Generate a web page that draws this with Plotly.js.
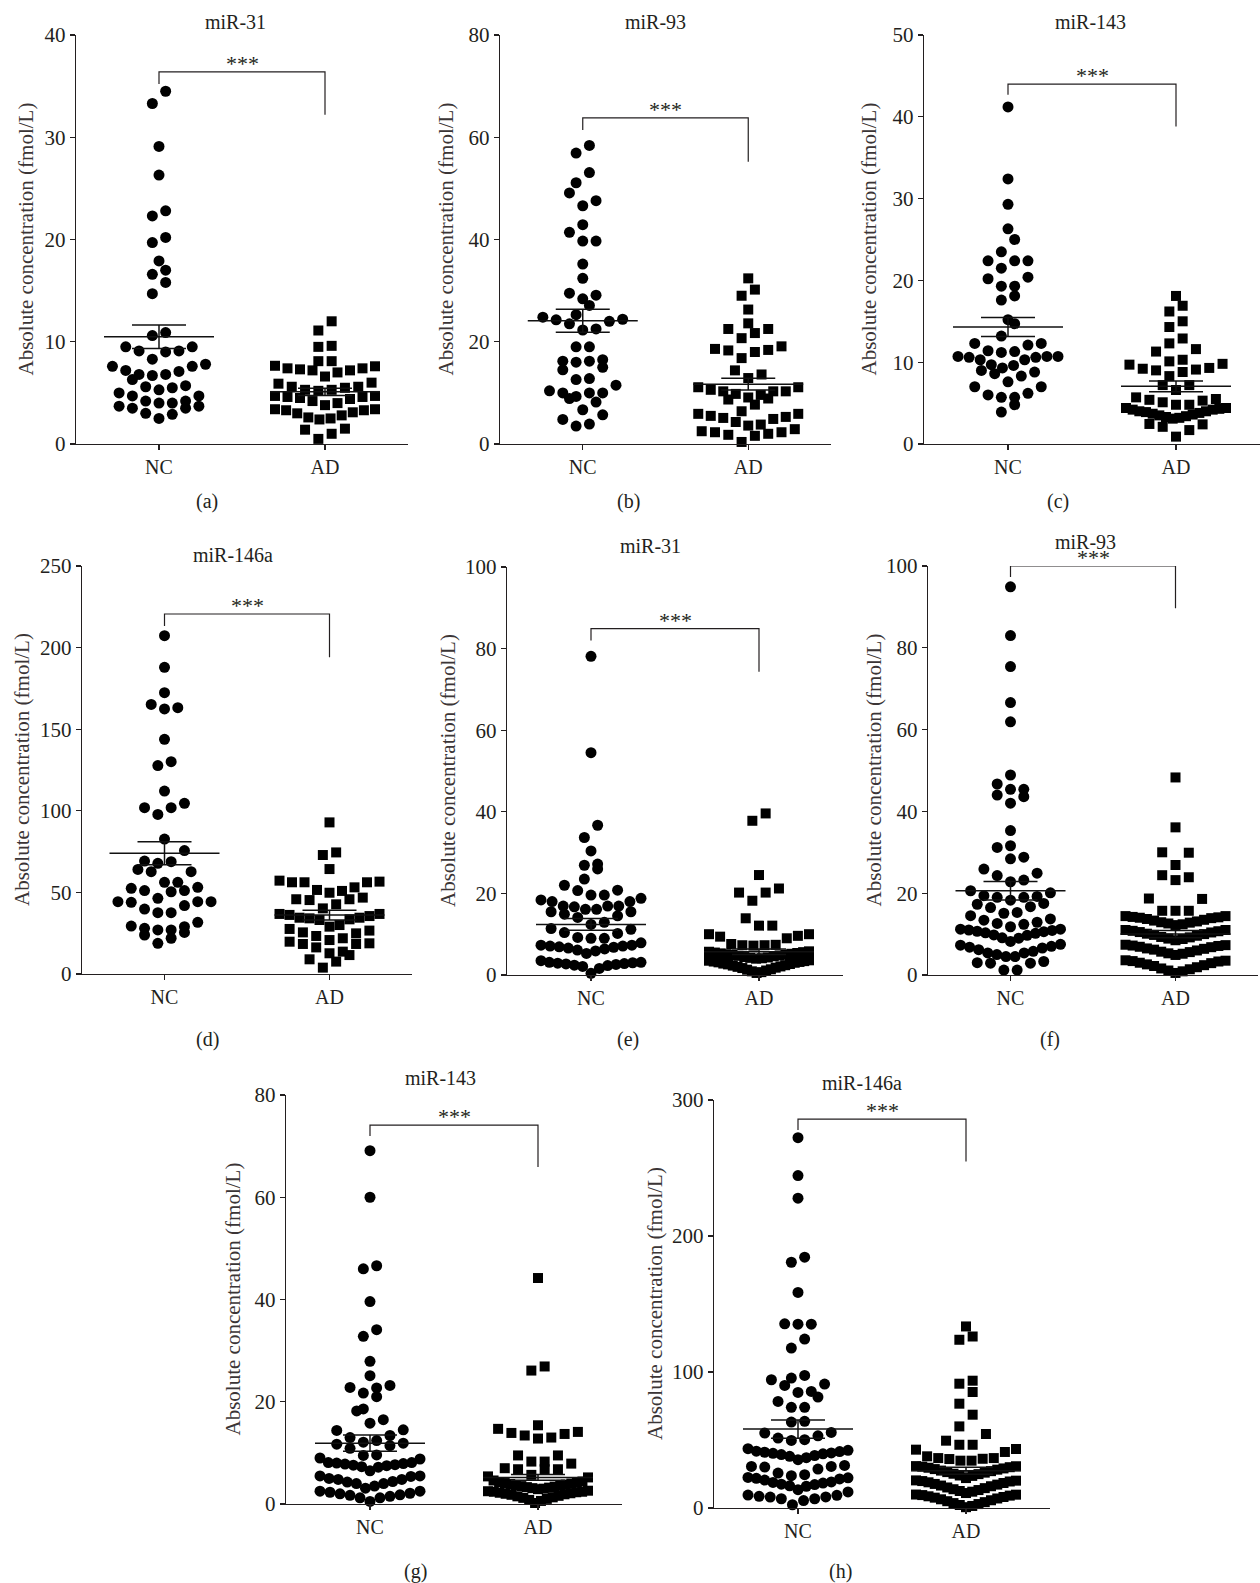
<!DOCTYPE html>
<html>
<head>
<meta charset="utf-8">
<script src="https://cdn.plot.ly/plotly-3.0.1.min.js"></script>
<style>
  html, body { margin: 0; padding: 0; background: #ffffff; }
  #chart { width: 1260px; height: 1583px; }
</style>
</head>
<body>
<div id="chart"></div>
<script>
// ---------------- DATA ----------------
const groups = ['NC', 'AD'];
const titles = ['miR-31', 'miR-93', 'miR-143', 'miR-146a', 'miR-31', 'miR-93', 'miR-143', 'miR-146a'];
const panelLabels = ['(a)', '(b)', '(c)', '(d)', '(e)', '(f)', '(g)', '(h)'];
const yAxisTitle = 'Absolute concentration (fmol/L)';
const sigText = '***';

// (a) miR-31
const a_NC = [34.5, 33.3, 29.1, 26.3, 22.8, 22.3, 20.2, 19.7, 17.9, 17.0, 16.6, 15.8, 14.7, 10.9, 10.6,
  9.5, 9.1, 9.0, 9.1, 9.5, 8.3, 7.8, 7.6, 7.6, 7.2, 7.1, 6.8, 6.7, 6.8, 6.3, 5.7, 5.6, 5.5, 5.3, 5.0,
  4.7, 4.7, 4.2, 4.2, 4.0, 4.0, 3.7, 3.7, 3.5, 3.5, 3.0, 2.9, 2.5];
const a_AD = [12.0, 11.1, 9.5, 9.6, 8.1, 8.1, 7.65, 7.4, 7.3, 7.2, 6.6, 7.0, 7.2, 7.4, 7.6,
  6.0, 5.6, 5.5, 5.3, 5.2, 5.3, 5.6, 5.9, 4.7, 4.6, 4.4, 4.0, 3.8, 4.2, 4.5, 4.7, 4.6,
  3.4, 3.3, 3.1, 2.8, 2.5, 2.4, 2.6, 3.0, 3.3, 3.4, 1.4, 1.5, 1.0, 0.5];
// (b) miR-93
const b_NC = [58.4, 56.9, 53.1, 51.1, 49.1, 47.6, 46.6, 42.9, 41.4, 39.7, 39.7, 35.2, 32.4, 29.5, 29.1,
  28.4, 27.1, 25.3, 24.8, 24.3, 23.5, 22.3, 22.5, 24.0, 24.4, 19.0, 19.0, 16.2, 16.0, 16.2, 16.5,
  14.5, 15.0, 12.8, 12.6, 11.5, 10.0, 10.0, 9.3, 10.0, 10.4, 8.9, 8.2, 6.7, 5.7, 4.8, 3.9, 3.5];
const b_AD = [32.4, 30.2, 29.0, 26.3, 23.6, 22.5, 22.5, 21.7, 20.7, 19.1, 18.6, 18.0, 18.4, 18.3, 16.8,
  14.4, 13.6, 12.9, 11.1, 11.1, 10.6, 10.3, 9.8, 9.6, 10.3, 10.3, 9.1, 8.7, 8.9, 7.7, 6.4, 5.9, 5.9,
  5.3, 5.5, 4.9, 5.1, 4.3, 3.8, 3.6, 2.5, 2.3, 2.9, 2.3, 2.0, 1.8, 1.6, 0.4];
// (c) miR-143
const c_NC = [41.2, 32.4, 29.3, 26.3, 25.0, 23.5, 22.4, 22.4, 22.4, 21.5, 20.4, 20.2, 19.3, 19.3, 18.1,
  17.6, 15.2, 14.7, 13.2, 12.3, 12.3, 12.1, 11.4, 11.2, 11.3, 10.7, 10.7, 10.6, 10.3, 9.7, 9.3, 9.6,
  10.3, 10.6, 10.7, 9.0, 8.6, 8.3, 8.8, 7.6, 7.0, 7.0, 6.2, 6.0, 5.7, 5.7, 4.8, 3.9];
const c_AD = [18.1, 16.9, 16.2, 15.0, 14.3, 12.9, 12.3, 11.6, 11.3, 10.3, 10.1, 9.7, 9.8, 9.2, 9.0,
  9.1, 9.3, 8.8, 8.3, 7.2, 7.2, 6.6, 5.7, 5.5, 5.4, 5.3, 5.1, 4.8, 4.8,
  4.4, 4.3, 4.2, 4.0, 3.9, 3.7, 3.5, 3.3, 3.1, 3.2, 3.4, 3.6, 3.8, 4.0, 4.2, 4.4,
  2.45, 2.4, 2.1, 1.7, 0.9];
// (d) miR-146a
const d_NC = [207.3, 187.9, 172.4, 163.2, 162.4, 165.2, 143.8, 130.1, 127.7, 112.1, 104.6, 101.9, 101.9,
  97.8, 82.7, 75.6, 68.8, 67.8, 69.2, 64.1, 62.7, 62.7, 56.2, 56.2, 53.1, 51.1, 50.4, 51.1, 52.5, 46.4,
  44.3, 43.9, 44.3, 44.3, 41.9, 39.8, 37.6, 37.6, 31.7, 29.4, 27.0, 28.0, 27.0, 29.0, 25.5, 23.9, 21.9, 18.8];
const d_AD = [92.9, 74.5, 72.9, 64.3, 56.2, 56.2, 53.1, 50.9, 49.8, 51.5, 56.2, 56.6, 57.2,
  45.8, 45.3, 45.8, 46.8, 42.7, 40.2, 36.8, 35.5, 34.5, 33.5, 33.1, 34.1, 34.5, 36.2, 36.8,
  29.0, 30.0, 26.6, 24.9, 21.9, 23.3, 25.5, 27.6, 20.8, 18.8, 18.4, 19.8, 18.4, 16.3, 13.7, 12.7, 11.6,
  9.0, 7.6, 3.9];
// (e) miR-31
const e_NC = [78.1, 54.5, 36.7, 33.7, 30.4, 26.9, 26.0, 27.2, 23.5, 22.0, 20.7, 19.6, 18.8, 19.6, 20.8,
  18.4, 18.0, 16.9, 16.7, 16.1, 15.5, 15.5, 16.1, 16.9, 16.9, 18.0, 14.9, 14.5, 14.1, 12.4, 12.9, 11.4,
  11.2, 10.4, 10.2, 9.0, 9.0, 9.2, 7.9, 7.3, 7.1, 6.9, 6.6, 6.1, 5.3, 5.9, 6.4, 6.8, 7.1, 7.3,
  3.5, 1.6, 0.4, 3.1, 3.0, 2.8, 2.6, 2.3, 2.1, 2.4, 2.7, 2.9, 3.1];
const e_AD = [39.6, 37.8, 24.5, 21.2, 20.2, 20.2, 18.2, 13.9, 12.1, 12.1, 10.0, 9.4, 10.0, 9.6, 9.0,
  7.6, 7.3, 7.2, 7.3, 7.4,
  5.8, 5.6, 5.5, 5.2, 5.1, 4.8, 4.7, 4.4, 4.3, 4.0, 4.1, 4.2, 4.6, 4.9, 5.0, 5.3, 5.4, 5.7,
  3.6, 3.4, 3.3, 3.1, 2.8, 2.6, 2.3, 2.1, 1.7, 1.4, 1.1, 0.7, 0.5, 0.9, 1.3, 1.8, 2.0, 2.4, 2.7, 3.0, 3.2, 3.5];
// (f) miR-93
const f_NC = [94.9, 83.0, 75.4, 66.6, 61.9, 48.9, 46.7, 45.4, 45.4, 44.0, 43.6, 42.0, 35.3, 31.2, 31.6,
  28.4, 28.8, 25.9, 24.3, 24.9, 22.8, 23.2, 20.6, 20.1, 19.4, 19.0, 19.0, 19.2, 18.3, 17.5, 17.3, 16.7,
  16.5, 15.3, 15.1, 14.5, 13.7, 13.4, 12.9, 12.6, 12.4, 11.8, 11.2, 11.0, 10.7, 10.3, 9.8, 9.0, 8.2,
  9.1, 9.7, 10.2, 10.6, 10.9, 11.2, 7.3, 6.8, 6.2, 5.4, 5.0, 4.5, 5.4, 5.8, 6.6, 7.0, 7.5, 4.5,
  3.0, 2.9, 2.9, 3.3, 1.2, 1.2];
const f_AD = [48.3, 36.1, 29.9, 30.0, 26.9, 24.4, 23.9, 23.2, 18.7, 18.6, 15.7, 15.7, 15.7,
  14.4, 14.1, 13.9, 13.5, 13.1, 12.8, 12.4, 12.2, 12.6, 12.9, 13.3, 13.7, 14.0, 14.2, 14.4,
  11.0, 10.7, 10.4, 10.0, 9.6, 9.2, 8.8, 8.5, 8.9, 9.3, 9.8, 10.1, 10.5, 10.8, 11.0,
  7.4, 7.1, 6.8, 6.4, 6.0, 5.6, 5.2, 4.9, 5.3, 5.7, 6.2, 6.5, 6.9, 7.2, 7.3,
  3.6, 3.3, 2.9, 2.4, 1.9, 1.4, 0.9, 0.5, 1.1, 1.6, 2.2, 2.6, 3.0, 3.4, 3.5];
// (g) miR-143
const g_NC = [69.1, 60.0, 46.0, 46.6, 39.6, 32.8, 34.1, 27.9, 25.1, 22.8, 23.2, 22.7, 21.7, 21.0, 18.2,
  18.6, 16.5, 15.8, 14.5, 14.4, 13.4, 13.0, 12.4, 12.1, 11.9, 11.7, 11.4, 10.9, 9.6, 9.5, 9.0, 8.8,
  8.1, 8.0, 7.8, 7.6, 7.3, 6.5, 7.2, 7.5, 7.7, 7.9, 8.1, 5.5, 5.4, 4.8, 4.4, 4.0, 3.1, 3.5, 4.0, 4.3,
  4.8, 5.0, 5.5, 2.5, 2.3, 2.0, 1.7, 1.2, 0.5, 1.2, 1.5, 1.8, 2.1, 2.5];
const g_AD = [44.2, 26.1, 26.9, 15.4, 14.7, 14.1, 13.9, 13.4, 13.7, 13.0, 12.8, 9.5, 9.5, 8.3, 8.3, 7.9,
  6.8, 6.8, 6.8, 7.0, 5.7, 5.4, 5.2, 4.6,
  4.4, 4.2, 4.0, 3.8, 3.6, 3.4, 3.2, 3.0, 2.9, 3.1, 3.3, 3.5, 3.7, 3.9, 4.1, 4.3,
  2.6, 2.4, 2.3, 2.1, 1.9, 1.6, 1.3, 1.0, 0.6, 0.2, 0.8, 1.2, 1.5, 1.8, 2.0, 2.2, 2.4, 2.5];
// (h) miR-146a
const h_NC = [272.3, 244.4, 227.8, 180.7, 184.4, 158.5, 135.4, 135.2, 135.2, 124.2, 117.6, 95.5, 97.5,
  91.1, 94.3, 85.7, 85.0, 90.1, 81.6, 78.4, 74.0, 74.0, 63.7, 63.2, 55.1, 55.6, 51.4, 53.1, 49.7, 50.2,
  42.4, 41.8, 41.0, 40.2, 39.3, 38.0, 35.5, 37.0, 38.6, 39.8, 40.5, 41.5, 43.6,
  30.6, 30.1, 25.7, 23.8, 24.5, 28.6, 30.6, 31.3,
  22.5, 21.8, 20.5, 18.8, 17.5, 16.3, 13.5, 16.0, 17.2, 18.3, 19.2, 21.4, 22.2,
  9.3, 8.6, 8.0, 6.8, 2.4, 5.5, 6.8, 8.1, 9.5, 11.8];
const h_AD = [133.5, 123.7, 126.1, 93.6, 91.4, 85.3, 76.7, 68.6, 60.0, 54.4, 49.5, 46.5, 46.5,
  43.4, 41.2, 42.9, 36.7, 36.2, 34.8, 34.8, 36.0, 36.7, 38.0,
  30.8, 30.0, 29.1, 28.2, 27.1, 26.0, 24.9, 23.6, 22.0, 23.9, 25.2, 26.4, 27.5, 28.6, 29.6, 30.4, 30.7,
  20.3, 19.5, 18.4, 17.2, 16.0, 14.6, 13.2, 12.0, 11.0, 12.5, 13.8, 15.1, 16.5, 17.7, 18.9, 19.8, 20.1,
  9.9, 9.1, 8.1, 7.0, 5.7, 4.3, 2.9, 1.5, 0.6, 2.2, 3.6, 5.0, 6.4, 7.6, 8.6, 9.5, 9.8];

const valuesNC = [a_NC, b_NC, c_NC, d_NC, e_NC, f_NC, g_NC, h_NC];
const valuesAD = [a_AD, b_AD, c_AD, d_AD, e_AD, f_AD, g_AD, h_AD];

// Mean and SEM
const meanNC = [10.5, 24.1, 14.3, 74.0, 12.4, 20.6, 11.9, 58.0];
const semNC  = [1.15, 2.25, 1.15, 7.1, 1.45, 2.25, 1.6, 6.7];
const meanAD = [5.1, 11.7, 7.05, 36.1, 5.7, 10.0, 5.2, 27.4];
const semAD  = [0.35, 1.15, 0.65, 3.0, 0.7, 0.9, 0.55, 2.5];

// ---------------- LAYOUT CONFIG (pixel geometry) ----------------
const W = 1260, H = 1583;
const FONT = 'Liberation Serif, Times New Roman, serif';
const TXT = '#231f20';
const panels = [
  {x0: 76,  x1: 408,  yTop: 35,   yBot: 444,  ymax: 40,  dt: 10,  br: [36.4, 35.2, 32.2],   title: [235, 22],   ytx: 25,  lab: [207, 502]},
  {x0: 500, x1: 831,  yTop: 35,   yBot: 444,  ymax: 80,  dt: 20,  br: [63.8, 61.4, 55.2],   title: [655, 22],   ytx: 445, lab: [628, 502]},
  {x0: 924, x1: 1260, yTop: 35,   yBot: 444,  ymax: 50,  dt: 10,  br: [44.0, 42.7, 38.8],   title: [1090, 22],  ytx: 868, lab: [1058, 502]},
  {x0: 82,  x1: 412,  yTop: 566,  yBot: 974,  ymax: 250, dt: 50,  br: [220.6, 213.2, 194.1], title: [233, 555], ytx: 22,  lab: [207, 1039]},
  {x0: 507, x1: 843,  yTop: 567,  yBot: 975,  ymax: 100, dt: 20,  br: [84.9, 82.0, 74.3],   title: [650, 546],  ytx: 448, lab: [628, 1039]},
  {x0: 928, x1: 1258, yTop: 566,  yBot: 975,  ymax: 100, dt: 20,  br: [100, 97.3, 89.7],    title: [1085, 542], ytx: 873, lab: [1050, 1039]},
  {x0: 286, x1: 622,  yTop: 1095, yBot: 1504, ymax: 80,  dt: 20,  br: [74.1, 72.0, 65.9],   title: [440, 1078], ytx: 232, lab: [415, 1571]},
  {x0: 714, x1: 1050, yTop: 1100, yBot: 1508, ymax: 300, dt: 100, br: [286.0, 277.9, 254.7], title: [862, 1083], ytx: 655, lab: [840, 1571]}
];

const BIN_PX = 13;      // row height of the scatter-dot layout
const STEP_PX = 13.3;   // preferred horizontal gap between dots
const MAX_SPAN_PX = 100;

// Prism-style column scatter: rows of similar values, sorted from the centre outward
function swarm(vals, center, p) {
  const ppuX = (p.x1 - p.x0) / 2;
  const ppuY = (p.yBot - p.yTop) / p.ymax;
  const binH = BIN_PX / ppuY;
  const s = vals.slice().sort((u, v) => u - v);
  const rows = [];
  let cur = [];
  for (const v of s) {
    if (cur.length && v - cur[0] >= binH) { rows.push(cur); cur = []; }
    cur.push(v);
  }
  if (cur.length) rows.push(cur);
  const xs = [], ys = [];
  for (const r of rows) {
    const n = r.length;
    const step = n > 1 ? Math.min(STEP_PX, MAX_SPAN_PX / (n - 1)) : 0;
    r.forEach((v, i) => {
      let k;
      if (n % 2) k = i === 0 ? 0 : (i % 2 ? (i + 1) / 2 : -i / 2);
      else { const j = Math.floor(i / 2) + 0.5; k = i % 2 ? j : -j; }
      xs.push(center + k * step / ppuX);
      ys.push(v);
    });
  }
  return {xs, ys};
}

const traces = [];
const layout = {
  width: W, height: H,
  margin: {l: 0, r: 0, t: 0, b: 0},
  paper_bgcolor: '#ffffff', plot_bgcolor: 'rgba(0,0,0,0)',
  showlegend: false,
  font: {family: FONT, color: TXT},
  annotations: []
};

panels.forEach((p, i) => {
  const n = i === 0 ? '' : String(i + 1);
  const xa = 'x' + n, ya = 'y' + n;
  const ppuX = (p.x1 - p.x0) / 2;

  const tv = [];
  for (let t = 0; t <= p.ymax + 1e-9; t += p.dt) tv.push(t);

  layout['xaxis' + n] = {
    domain: [p.x0 / W, p.x1 / W], anchor: ya, range: [-0.5, 1.5],
    tickmode: 'array', tickvals: [0, 1], ticktext: groups,
    ticks: 'outside', ticklen: 5, tickwidth: 1.3, tickcolor: TXT,
    showline: true, linecolor: TXT, linewidth: 1.3,
    showgrid: false, zeroline: false, fixedrange: true,
    tickfont: {family: FONT, size: 20, color: TXT}
  };
  layout['yaxis' + n] = {
    domain: [1 - p.yBot / H, 1 - p.yTop / H], anchor: xa, range: [0, p.ymax],
    tickmode: 'array', tickvals: tv,
    ticks: 'outside', ticklen: 5, tickwidth: 1.3, tickcolor: TXT,
    showline: true, linecolor: TXT, linewidth: 1.3,
    showgrid: false, zeroline: false, fixedrange: true,
    tickfont: {family: FONT, size: 21, color: TXT}
  };

  const nc = swarm(valuesNC[i], 0, p);
  const ad = swarm(valuesAD[i], 1, p);
  traces.push({type: 'scatter', mode: 'markers', x: nc.xs, y: nc.ys, xaxis: xa, yaxis: ya,
    marker: {symbol: 'circle', size: 11, color: '#000000', line: {width: 0}}, cliponaxis: false, hoverinfo: 'skip', name: groups[0]});
  traces.push({type: 'scatter', mode: 'markers', x: ad.xs, y: ad.ys, xaxis: xa, yaxis: ya,
    marker: {symbol: 'square', size: 10, color: '#000000', line: {width: 0}}, cliponaxis: false, hoverinfo: 'skip', name: groups[1]});

  // mean +/- SEM
  const hm = 55 / ppuX, hc = 27 / ppuX;
  [[0, meanNC[i], semNC[i]], [1, meanAD[i], semAD[i]]].forEach(([c, m, s]) => {
    traces.push({type: 'scatter', mode: 'lines', xaxis: xa, yaxis: ya, hoverinfo: 'skip',
      x: [c - hm, c + hm, null, c - hc, c + hc, null, c - hc, c + hc, null, c, c],
      y: [m, m, null, m + s, m + s, null, m - s, m - s, null, m + s, m - s],
      line: {color: '#111111', width: 1.5}, cliponaxis: false});
  });

  // significance bracket
  traces.push({type: 'scatter', mode: 'lines', xaxis: xa, yaxis: ya, hoverinfo: 'skip',
    x: [0, 0, 1, 1], y: [p.br[1], p.br[0], p.br[0], p.br[2]],
    line: {color: TXT, width: 1.2}, cliponaxis: false});
  layout.annotations.push({xref: xa, yref: ya, x: 0.5, y: p.br[0], text: sigText, showarrow: false,
    xanchor: 'center', yanchor: 'bottom', yshift: -6, font: {family: FONT, size: 22, color: TXT}});

  // subplot title
  layout.annotations.push({xref: 'paper', yref: 'paper', x: p.title[0] / W, y: 1 - p.title[1] / H,
    text: titles[i], showarrow: false, xanchor: 'center', yanchor: 'middle',
    font: {family: FONT, size: 20, color: TXT}});
  // y-axis title
  layout.annotations.push({xref: 'paper', yref: 'paper', x: p.ytx / W, y: 1 - ((p.yTop + p.yBot) / 2) / H,
    text: yAxisTitle, showarrow: false, textangle: -90, xanchor: 'center', yanchor: 'middle',
    font: {family: FONT, size: 21, color: '#3b3536'}});
  // panel label
  layout.annotations.push({xref: 'paper', yref: 'paper', x: p.lab[0] / W, y: 1 - p.lab[1] / H,
    text: panelLabels[i], showarrow: false, xanchor: 'center', yanchor: 'middle',
    font: {family: FONT, size: 20, color: TXT}});
});

Plotly.newPlot('chart', traces, layout, {displayModeBar: false, staticPlot: true});
</script>
</body>
</html>
